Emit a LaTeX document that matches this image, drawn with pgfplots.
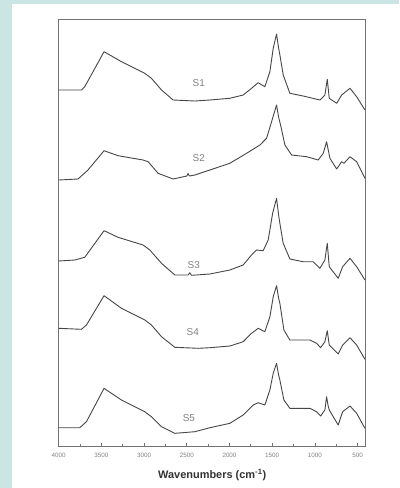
\documentclass[border=0pt]{standalone}
\usepackage{fontspec}
\setmainfont{Liberation Sans}
\usepackage{pgfplots}
\pgfplotsset{compat=1.18}
\definecolor{bgblue}{RGB}{203,228,228}
\definecolor{framec}{RGB}{115,115,115}
\definecolor{curvec}{RGB}{70,70,70}
\definecolor{labc}{RGB}{130,130,130}
\tikzset{spec/.style={draw=curvec, line width=0.9bp, line join=round, no marks}}
\begin{document}
\begin{tikzpicture}[x=1bp,y=1bp]
\fill[bgblue] (0,0) rectangle (399,-488);
\fill[white] (12,-4) rectangle (399,-488);
\path[use as bounding box] (0,0) rectangle (399,-488);
\begin{axis}[
  at={(58.7bp,-446bp)}, anchor=south west,
  scale only axis, width=307bp, height=426.7bp,
  x dir=reverse, xmin=405, xmax=4000,
  y dir=reverse, ymin=19.3, ymax=446,
  axis line style={draw=framec, line width=0.8bp},
  tick align=inside, xtick pos=bottom, ytick=\empty,
  xtick={500,1000,...,4000}, minor x tick num=1,
  major tick length=3.5bp, minor tick length=2.5bp,
  tick style={draw=framec, line width=0.7bp},
  xticklabel style={font=\fontsize{6.3}{7}\selectfont, text=labc, yshift=-3.5bp},
  /pgf/number format/assume math mode=true,
  /pgf/number format/1000 sep={},
  xlabel={\textbf{Wavenumbers (cm\textsuperscript{-1})}},
  xlabel style={font=\fontsize{11}{13}\selectfont, text=black!80, yshift=-5bp},
  clip=true,
]
\addplot[spec] table {
4000 90
3734 90
3695 86.7
3469 51.7
3265 61.7
2992 73.3
2914 78.3
2796 90
2660 100
2406 101
2230 100
1996 98.3
1840 95
1742 88.3
1664 82.7
1586 86.7
1527 71.7
1488 48.3
1449 34
1425 48
1410 55
1371 75
1293 93.3
1137 96
941 100
883 95
855 79.3
832 98.3
745 103.3
687 95
589 88.3
511 96.7
414 110
};
\addplot[spec] table {
4000 180
3774 179
3657 170
3469 150.7
3305 155.7
3012 160
2953 161.7
2836 173.3
2660 179
2500 176
2485 173.5
2470 176
2406 175
2230 170
1996 163.3
1800 153.3
1644 145
1566 138.3
1507 121.7
1449 105
1425 117
1402 125
1351 145
1273 155
1097 156.7
961 160
902 153.3
863 141.7
824 158.3
745 169
687 161.7
660 163.3
589 156.7
511 161.7
414 178.3
};
\addplot[spec] table {
4000 261
3812 260
3695 257.3
3469 230.7
3305 237.3
3012 245
2933 250
2796 263.3
2640 275
2485 275
2465 272.7
2445 275.3
2230 274
1996 270
1840 265
1742 255
1683 250
1606 250.7
1547 240
1495 213.3
1449 198.3
1425 215
1410 223.3
1371 243.3
1293 259
1137 261.7
1019 261.7
941 268.3
883 260
855 243.3
832 266.7
727 278.3
675 266.7
589 258.3
511 266.7
414 280
};
\addplot[spec] table {
4000 328.3
3734 329.3
3675 325
3469 295.7
3265 308.3
2992 320
2914 325
2796 336.7
2640 347.3
2367 348.3
2230 347.7
1996 346
1840 341.7
1742 333.3
1664 328.3
1586 331.7
1527 316.7
1488 296.7
1449 285.7
1425 298
1410 303.3
1363 330
1293 340
1058 340
980 343.3
933 347.7
883 341.7
855 330.7
832 345
727 354
675 345
589 337.7
511 345
414 359.3
};
\addplot[spec] table {
4000 427.7
3754 427.7
3675 421.7
3469 388.3
3265 400
2992 411.7
2914 416.7
2796 426.7
2640 433.3
2406 431.7
2230 427.7
1996 423.3
1840 415
1723 405
1664 402.7
1586 405
1527 390
1488 373.3
1449 363.3
1425 375
1410 380
1363 400
1293 408.3
1058 408.3
980 411.7
933 416
883 410
863 396.7
847 405
832 410
727 425
675 411.7
589 406
511 413.3
414 428.3
};
\node[font=\fontsize{10}{12}\selectfont, text=labc] at (axis cs:2359,83) {S1};
\node[font=\fontsize{10}{12}\selectfont, text=labc] at (axis cs:2359,158) {S2};
\node[font=\fontsize{10}{12}\selectfont, text=labc] at (axis cs:2418,265) {S3};
\node[font=\fontsize{10}{12}\selectfont, text=labc] at (axis cs:2430,332) {S4};
\node[font=\fontsize{10}{12}\selectfont, text=labc] at (axis cs:2476,418) {S5};
\end{axis}
\end{tikzpicture}
\end{document}
